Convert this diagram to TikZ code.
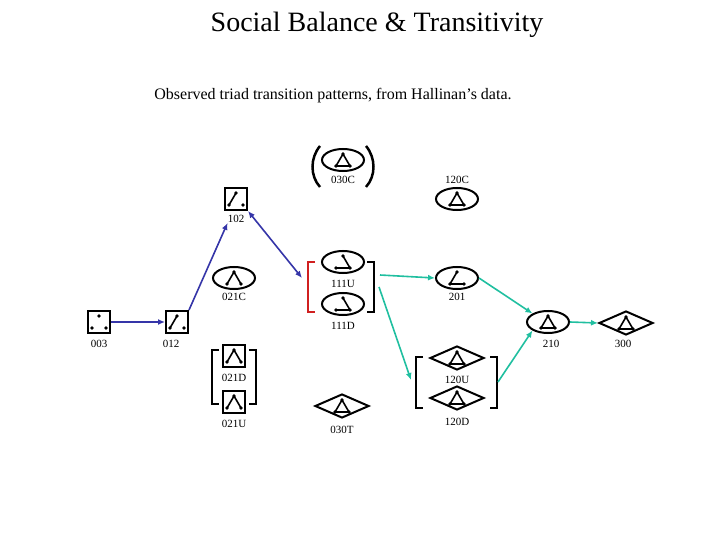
\documentclass[tikz,border=0pt]{standalone}
\usepackage{fontspec}
\setmainfont{Liberation Serif}
\usetikzlibrary{shapes.geometric,arrows.meta}
\definecolor{blu}{HTML}{3535A8}
\definecolor{cya}{HTML}{20BFA0}
\definecolor{rd}{HTML}{D02020}
\tikzset{
 box/.style={draw,line width=2pt,minimum width=22pt,minimum height=22pt,inner sep=0pt},
 ell/.style={draw,ellipse,line width=2pt,minimum width=42pt,minimum height=22pt,inner sep=0pt},
 dia/.style={draw,diamond,aspect=2.4,line width=2pt,minimum width=54pt,minimum height=24pt,inner sep=0pt},
 lab/.style={font=\fontsize{11}{12}\selectfont,inner sep=0pt},
 gl/.style={line width=1.6pt},
 ba/.style={blu,line width=1.6pt,-{Latex[length=7pt,width=6pt]}},
 ca/.style={cya,line width=1.6pt,-{Latex[length=7pt,width=6pt]}},
 brk/.style={line width=2pt}
}
\newcommand{\mytdots}[1]{\fill (#1)++(0,-6) circle(1.8) (#1)++(-7,6) circle(1.8) (#1)++(7,6) circle(1.8);}
\newcommand{\mytri}[1]{\draw[gl] (#1)++(0,-6) -- ++(-7,12) -- ++(14,0) -- cycle; \mytdots{#1}}
\newcommand{\myvee}[1]{\draw[gl] (#1)++(-7,6) -- ++(7,-12) -- ++(7,12); \mytdots{#1}}
\newcommand{\myslant}[1]{\draw[gl] (#1)++(-7,6) -- ++(7,-12); \mytdots{#1}}
\newcommand{\myoneu}[1]{\draw[gl] (#1)++(0,-6) -- ++(7,12) -- ++(-14,0); \mytdots{#1}}
\newcommand{\mytwoo}[1]{\draw[gl] (#1)++(0,-6) -- ++(-7,12) -- ++(14,0); \mytdots{#1}}
\begin{document}
\begin{tikzpicture}[x=1pt,y=-1pt]
\useasboundingbox (0,0) rectangle (720,540);
\node[font=\fontsize{28}{30}\selectfont] (title) at (377,25) {Social Balance \& Transitivity};
\node[font=\fontsize{16}{18}\selectfont] (sub) at (333,96) {Observed triad transition patterns, from Hallinan’s data.};
% nodes
\node[box] (n003) at (99,322) {}; \mytdots{n003} \node[lab] (l003) at (99,344) {003};
\node[box] (n012) at (177,322) {}; \myslant{n012} \node[lab] (l012) at (171,344) {012};
\node[box] (n102) at (236,199) {}; \myslant{n102} \node[lab] (l102) at (236,219) {102};
\node[ell] (n021C) at (234,278) {}; \myvee{n021C} \node[lab] (l021C) at (234,297) {021C};
\node[box] (n021D) at (234,356) {}; \myvee{n021D} \node[lab] (l021D) at (234,378) {021D};
\node[box] (n021U) at (234,402) {}; \myvee{n021U} \node[lab] (l021U) at (234,424) {021U};
\draw[brk] (219,350) -| (212,404) -- (219,404);
\draw[brk] (249,350) -| (256,404) -- (249,404);
\node[ell] (n030C) at (343,160) {}; \mytri{n030C} \node[lab] (l030C) at (343,180) {030C};
\draw[line width=2.5pt] (320,146) .. controls (310,158) and (310,176) .. (320,187);
\draw[line width=2.5pt] (366,146) .. controls (376,158) and (376,176) .. (366,187);
\node[ell] (n111U) at (343,262) {}; \myoneu{n111U} \node[lab] (l111U) at (343,284) {111U};
\node[ell] (n111D) at (343,304) {}; \myoneu{n111D} \node[lab] (l111D) at (343,326) {111D};
\draw[brk,rd] (315,262) -| (308,312) -- (315,312);
\draw[brk] (367,262) -| (374,312) -- (367,312);
\node[lab] (l120C) at (457,180) {120C}; \node[ell] (n120C) at (457,199) {}; \mytri{n120C}
\node[ell] (n201) at (457,278) {}; \mytwoo{n201} \node[lab] (l201) at (457,297) {201};
\node[dia] (n030T) at (342,406) {}; \mytri{n030T} \node[lab] (l030T) at (342,430) {030T};
\node[dia] (n120U) at (457,358) {}; \mytri{n120U} \node[lab] (l120U) at (457,380) {120U};
\node[dia] (n120D) at (457,398) {}; \mytri{n120D} \node[lab] (l120D) at (457,422) {120D};
\draw[brk] (423,357) -| (416,408) -- (423,408);
\draw[brk] (490,357) -| (497,408) -- (490,408);
\node[ell] (n210) at (548,322) {}; \mytri{n210} \node[lab] (l210) at (551,344) {210};
\node[dia] (n300) at (626,323) {}; \mytri{n300} \node[lab] (l300) at (623,344) {300};
% connectors
\coordinate (b111L) at (302,278);
\coordinate (b111R1) at (380,275);
\coordinate (b111R2) at (379,287);
\coordinate (b120L) at (411,380);
\coordinate (b120R) at (498,382);
\draw[ba] (n003) -- (n012);
\draw[ba] (n012.north east) -- (l102.south west);
\draw[ba,{Latex[length=7pt,width=6pt]}-{Latex[length=7pt,width=6pt]}] (n102.south east) -- (b111L);
\draw[ca] (b111R1) -- (n201.west);
\draw[ca] (b111R2) -- (b120L);
\draw[ca] (n201.east) -- (n210.north west);
\draw[ca] (b120R) -- (n210.south west);
\draw[ca] (n210.east) -- (n300.west);
\end{tikzpicture}
\end{document}
